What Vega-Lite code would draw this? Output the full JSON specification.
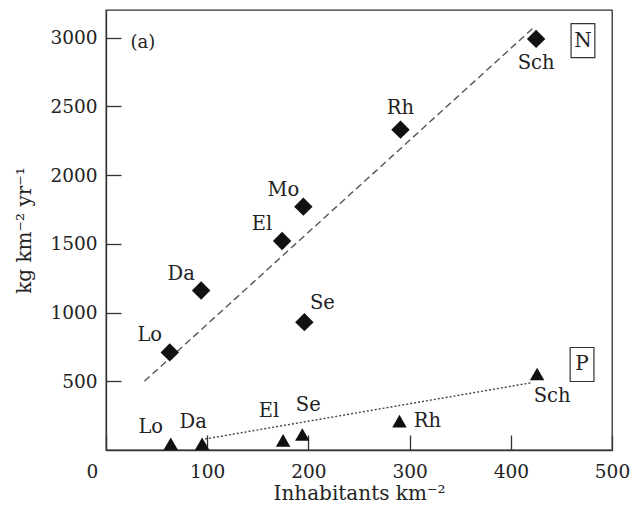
{
  "$schema": "https://vega.github.io/schema/vega-lite/v6.json",
  "width": 506,
  "height": 440,
  "autosize": "none",
  "padding": {"left": 106, "top": 10, "right": 18, "bottom": 63},
  "datasets": {
    "sites": [
      {"series": "N", "site": "Lo", "density": 63, "load": 710},
      {"series": "N", "site": "Da", "density": 94, "load": 1160},
      {"series": "N", "site": "El", "density": 174, "load": 1520},
      {"series": "N", "site": "Mo", "density": 195, "load": 1770},
      {"series": "N", "site": "Se", "density": 196, "load": 930},
      {"series": "N", "site": "Rh", "density": 291, "load": 2330},
      {"series": "N", "site": "Sch", "density": 425, "load": 2990},
      {"series": "P", "site": "Lo", "density": 64, "load": 45},
      {"series": "P", "site": "Da", "density": 95, "load": 45},
      {"series": "P", "site": "El", "density": 175, "load": 70},
      {"series": "P", "site": "Se", "density": 194, "load": 113},
      {"series": "P", "site": "Rh", "density": 290, "load": 210},
      {"series": "P", "site": "Sch", "density": 426, "load": 553}
    ],
    "fits": [
      {"series": "N", "density": 38, "load": 500},
      {"series": "N", "density": 423, "load": 3075},
      {"series": "P", "density": 98, "load": 80},
      {"series": "P", "density": 421, "load": 490}
    ],
    "notes": [
      {"text": "(a)", "density": 36.5, "load": 2960, "boxed": false},
      {"text": "N", "density": 471.3, "load": 2978, "boxed": true},
      {"text": "P", "density": 470.4, "load": 622, "boxed": true}
    ]
  },
  "config": {
    "font": "DejaVu Serif",
    "view": {"stroke": "#333", "strokeWidth": 1.3},
    "axis": {
      "grid": false,
      "domainColor": "#333",
      "domainWidth": 1.3,
      "tickColor": "#333",
      "tickWidth": 1.3,
      "tickSize": -15,
      "labelColor": "#222",
      "titleColor": "#222",
      "labelFont": "DejaVu Serif",
      "titleFont": "DejaVu Serif",
      "labelFontSize": 18.5,
      "titleFontSize": 20,
      "titleFontWeight": "normal",
      "format": "d"
    }
  },
  "encoding": {
    "x": {
      "field": "density",
      "type": "quantitative",
      "scale": {"domain": [0, 500], "nice": false},
      "axis": {
        "title": "Inhabitants km⁻²",
        "values": [0, 100, 200, 300, 400, 500],
        "labelFlush": false,
        "labelPadding": 27,
        "labelOffset": {"condition": {"test": "datum.value === 0", "value": -14}, "value": 0},
        "titlePadding": 3
      }
    },
    "y": {
      "field": "load",
      "type": "quantitative",
      "scale": {"domain": [0, 3200], "nice": false},
      "axis": {
        "title": "kg km⁻² yr⁻¹",
        "values": [500, 1000, 1500, 2000, 2500, 3000],
        "labelPadding": 24,
        "titlePadding": 15
      }
    }
  },
  "layer": [
    {
      "data": {"name": "fits"},
      "transform": [{"filter": "datum.series === 'N'"}],
      "mark": {"type": "line", "color": "#555", "strokeWidth": 1.4, "strokeDash": [7, 4]},
      "encoding": {}
    },
    {
      "data": {"name": "fits"},
      "transform": [{"filter": "datum.series === 'P'"}],
      "mark": {"type": "line", "color": "#444", "strokeWidth": 1.4, "strokeDash": [2, 2]},
      "encoding": {}
    },
    {
      "data": {"name": "sites"},
      "transform": [{"filter": "datum.series === 'N'"}],
      "mark": {"type": "point", "shape": "diamond", "filled": true, "color": "#111", "size": 340, "opacity": 1}
    },
    {
      "data": {"name": "sites"},
      "transform": [{"filter": "datum.series === 'P'"}],
      "mark": {"type": "point", "shape": "triangle-up", "filled": true, "color": "#111", "size": 210, "opacity": 1}
    },
    {
      "data": {"name": "sites"},
      "transform": [{"filter": "indexof(['N:Lo','N:Da','N:El','N:Mo','P:Lo'], datum.series + ':' + datum.site) >= 0"}],
      "mark": {"type": "text", "fontSize": 19.5, "color": "#222", "align": "center", "baseline": "middle", "dx": -20, "dy": -17},
      "encoding": {"text": {"field": "site"}}
    },
    {
      "data": {"name": "sites"},
      "transform": [{"filter": "datum.series === 'N' && datum.site === 'Se'"}],
      "mark": {"type": "text", "fontSize": 19.5, "color": "#222", "align": "center", "baseline": "middle", "dx": 18, "dy": -19},
      "encoding": {"text": {"field": "site"}}
    },
    {
      "data": {"name": "sites"},
      "transform": [{"filter": "datum.series === 'N' && datum.site === 'Rh'"}],
      "mark": {"type": "text", "fontSize": 19.5, "color": "#222", "align": "center", "baseline": "middle", "dx": 0, "dy": -22},
      "encoding": {"text": {"field": "site"}}
    },
    {
      "data": {"name": "sites"},
      "transform": [{"filter": "datum.series === 'N' && datum.site === 'Sch'"}],
      "mark": {"type": "text", "fontSize": 19.5, "color": "#222", "align": "center", "baseline": "middle", "dx": 0, "dy": 24},
      "encoding": {"text": {"field": "site"}}
    },
    {
      "data": {"name": "sites"},
      "transform": [{"filter": "datum.series === 'P' && datum.site === 'Da'"}],
      "mark": {"type": "text", "fontSize": 19.5, "color": "#222", "align": "center", "baseline": "middle", "dx": -9, "dy": -22},
      "encoding": {"text": {"field": "site"}}
    },
    {
      "data": {"name": "sites"},
      "transform": [{"filter": "datum.series === 'P' && datum.site === 'El'"}],
      "mark": {"type": "text", "fontSize": 19.5, "color": "#222", "align": "center", "baseline": "middle", "dx": -14, "dy": -29},
      "encoding": {"text": {"field": "site"}}
    },
    {
      "data": {"name": "sites"},
      "transform": [{"filter": "datum.series === 'P' && datum.site === 'Se'"}],
      "mark": {"type": "text", "fontSize": 19.5, "color": "#222", "align": "center", "baseline": "middle", "dx": 6, "dy": -29},
      "encoding": {"text": {"field": "site"}}
    },
    {
      "data": {"name": "sites"},
      "transform": [{"filter": "datum.series === 'P' && datum.site === 'Rh'"}],
      "mark": {"type": "text", "fontSize": 19.5, "color": "#222", "align": "center", "baseline": "middle", "dx": 28, "dy": 0},
      "encoding": {"text": {"field": "site"}}
    },
    {
      "data": {"name": "sites"},
      "transform": [{"filter": "datum.series === 'P' && datum.site === 'Sch'"}],
      "mark": {"type": "text", "fontSize": 19.5, "color": "#222", "align": "center", "baseline": "middle", "dx": 15, "dy": 22},
      "encoding": {"text": {"field": "site"}}
    },
    {
      "data": {"name": "notes"},
      "transform": [{"filter": "datum.boxed"}],
      "mark": {"type": "point", "shape": "M-0.7,-1H0.7V1H-0.7Z", "filled": false, "stroke": "#333", "strokeWidth": 1.2, "size": 1156, "opacity": 1}
    },
    {
      "data": {"name": "notes"},
      "transform": [{"filter": "datum.boxed"}],
      "mark": {"type": "text", "fontSize": 20, "color": "#222", "align": "center", "baseline": "middle"},
      "encoding": {"text": {"field": "text"}}
    },
    {
      "data": {"name": "notes"},
      "transform": [{"filter": "!datum.boxed"}],
      "mark": {"type": "text", "fontSize": 18, "color": "#222", "align": "center", "baseline": "middle"},
      "encoding": {"text": {"field": "text"}}
    }
  ]
}
